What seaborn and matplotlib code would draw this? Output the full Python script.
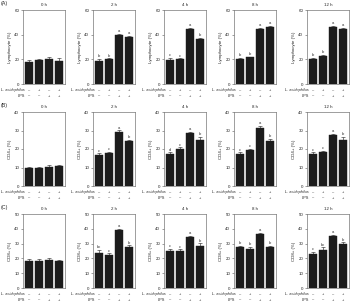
import matplotlib
matplotlib.use("Agg")
import matplotlib.pyplot as plt
import matplotlib.transforms as mtransforms
import seaborn as sns
import numpy as np
import pandas as pd

sns.set_style("ticks")
plt.rcParams['font.family'] = ['Liberation Sans', 'DejaVu Sans']

times = ["0 h", "2 h", "4 h", "8 h", "12 h"]
groups = ["g1", "g2", "g3", "g4"]
lacto_signs = ["\u2013", "+", "\u2013", "+"]
lps_signs = ["\u2013", "\u2013", "+", "+"]

# Lymphocyte (%)
lymph_mean = [[17.8, 19.2, 20.3, 18.9],
              [19.0, 20.0, 39.5, 37.8],
              [19.3, 20.0, 44.8, 36.5],
              [20.2, 21.6, 44.2, 46.0],
              [20.2, 22.8, 46.4, 44.3]]
lymph_err = [[1.8, 1.0, 1.5, 2.0],
             [1.5, 0.8, 1.0, 1.0],
             [1.8, 0.8, 1.0, 1.0],
             [0.8, 0.6, 1.2, 1.0],
             [1.0, 0.8, 0.8, 1.0]]
lymph_let = [["", "", "", ""],
             ["b", "b", "a", "a"],
             ["c", "c", "a", "b"],
             ["b", "b", "a", "a"],
             ["b", "b", "a", "a"]]

# CD4+ (%)
cd4_mean = [[9.9, 9.9, 10.2, 10.6],
            [16.9, 17.8, 29.3, 24.3],
            [17.5, 20.2, 28.4, 25.0],
            [17.5, 19.6, 31.5, 24.3],
            [17.4, 18.2, 27.7, 25.0]]
cd4_err = [[0.6, 0.6, 1.0, 0.6],
           [0.8, 0.8, 0.8, 0.8],
           [0.7, 0.7, 0.9, 1.5],
           [0.7, 0.6, 0.9, 1.0],
           [0.8, 0.6, 0.6, 1.5]]
cd4_let = [["", "", "", ""],
           ["c", "c", "a", "b"],
           ["d", "c", "a", "b"],
           ["c", "c", "a", "b"],
           ["c", "c", "a", "b"]]

# CD8+ (%)
cd8_mean = [[18.3, 18.3, 19.2, 18.1],
            [23.8, 22.2, 38.9, 27.6],
            [25.1, 24.7, 34.4, 28.7],
            [27.4, 26.5, 36.7, 27.4],
            [23.3, 26.0, 35.0, 29.6]]
cd8_err = [[1.0, 1.0, 1.2, 0.8],
           [2.0, 1.2, 1.2, 1.2],
           [1.2, 1.4, 0.8, 1.4],
           [1.0, 1.5, 0.8, 1.0],
           [1.0, 1.5, 1.0, 1.2]]
cd8_let = [["", "", "", ""],
           ["bc", "c", "a", "b"],
           ["c", "c", "a", "b"],
           ["b", "b", "a", "b"],
           ["c", "bc", "a", "b"]]

rows = [
    ("(A)", "Lymphocyte (%)", lymph_mean, lymph_err, lymph_let, 60, [0, 20, 40, 60]),
    ("(B)", "CD4+ (%)", cd4_mean, cd4_err, cd4_let, 40, [0, 10, 20, 30, 40]),
    ("(C)", "CD8+ (%)", cd8_mean, cd8_err, cd8_let, 50, [0, 10, 20, 30, 40, 50]),
]

W, H = 350, 302
fig = plt.figure(figsize=(3.5, 3.02), dpi=100)

col_left = [23, 93, 164, 234, 307]
col_w = 42
row_top = [10, 112, 214]
row_h = 74
fs = 3.2
fs_small = 2.8

for r, (plabel, ylab, means, errs, lets, ymax, yt) in enumerate(rows):
    fig.text(1 / W, 1 - (row_top[r] - 6) / H, plabel, fontsize=3.8, va="center", ha="left")
    for c, t in enumerate(times):
        ax = fig.add_axes([col_left[c] / W, 1 - (row_top[r] + row_h) / H, col_w / W, row_h / H])
        df = pd.DataFrame({"group": groups, "value": means[c]})
        sns.barplot(data=df, x="group", y="value", color="#1c1c1c", width=0.78,
                    edgecolor="#1c1c1c", linewidth=0.3, ax=ax, errorbar=None)
        xs = np.arange(4)
        ax.errorbar(xs, means[c], yerr=[np.zeros(4), errs[c]], fmt="none",
                    ecolor="#1c1c1c", elinewidth=0.4, capsize=1.2, capthick=0.4)
        for i in range(4):
            if lets[c][i]:
                ax.text(xs[i], means[c][i] + errs[c][i] + ymax * 0.01, lets[c][i],
                        ha="center", va="bottom", fontsize=3.0, color="#333333")
        ax.set_xlim(-0.6, 3.6)
        ax.set_ylim(0, ymax)
        ax.set_yticks(yt)
        ax.set_yticklabels([str(v) for v in yt], fontsize=fs)
        ax.set_xticks([])
        ax.set_xlabel("")
        ax.set_ylabel(ylab, fontsize=fs, labelpad=2)
        ax.set_title(t, fontsize=fs, pad=3)
        ax.tick_params(axis="y", length=1.5, width=0.4, pad=1.2, color="#555555")
        for sp in ax.spines.values():
            sp.set_visible(True)
            sp.set_linewidth(0.5)
            sp.set_color("#777777")
        trans = mtransforms.blended_transform_factory(ax.transData, ax.transAxes)
        ax.text(-0.45, -0.08, "L. acidophilus", style="italic", ha="right", va="center",
                fontsize=fs_small, transform=trans, clip_on=False)
        ax.text(-0.45, -0.16, "LPS", ha="right", va="center",
                fontsize=fs_small, transform=trans, clip_on=False)
        for i in range(4):
            ax.text(xs[i], -0.08, lacto_signs[i], ha="center", va="center",
                    fontsize=fs_small, transform=trans, clip_on=False)
            ax.text(xs[i], -0.16, lps_signs[i], ha="center", va="center",
                    fontsize=fs_small, transform=trans, clip_on=False)

fig.savefig("out.png", dpi=100)
